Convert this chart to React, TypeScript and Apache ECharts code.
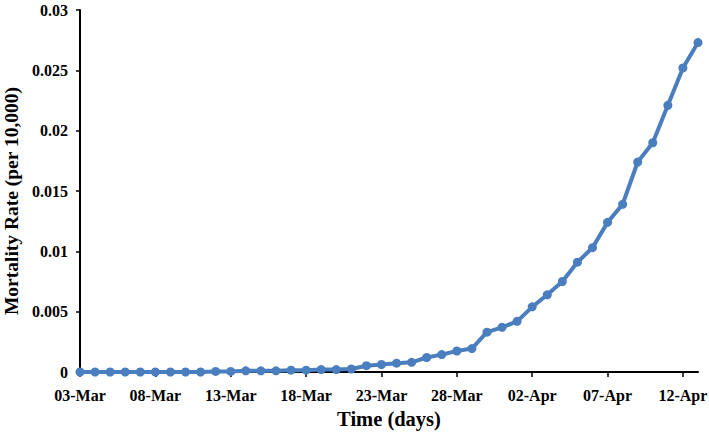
import React, { useEffect, useRef } from "react";
import * as echarts from "echarts";

const categories = [
  "03-Mar","04-Mar","05-Mar","06-Mar","07-Mar","08-Mar","09-Mar","10-Mar","11-Mar","12-Mar",
  "13-Mar","14-Mar","15-Mar","16-Mar","17-Mar","18-Mar","19-Mar","20-Mar","21-Mar","22-Mar",
  "23-Mar","24-Mar","25-Mar","26-Mar","27-Mar","28-Mar","29-Mar","30-Mar","31-Mar","01-Apr",
  "02-Apr","03-Apr","04-Apr","05-Apr","06-Apr","07-Apr","08-Apr","09-Apr","10-Apr","11-Apr",
  "12-Apr","13-Apr",
];

const mortalityRate = [
  0, 0, 0, 0, 0, 0, 0, 0, 0, 0.00005,
  0.00005, 0.0001, 0.0001, 0.0001, 0.00015, 0.00015, 0.0002, 0.0002, 0.00025, 0.00052,
  0.00062, 0.00073, 0.0008, 0.0012, 0.00144, 0.00174, 0.00194, 0.0033, 0.0037, 0.0042,
  0.0054, 0.0064, 0.0075, 0.0091, 0.0103, 0.0124, 0.0139, 0.0174, 0.019, 0.0221,
  0.0252, 0.0273,
];

const xTitle = "Time (days)";
const yTitle = "Mortality Rate (per 10,000)";

export default function App() {
  const ref = useRef<HTMLDivElement>(null);
  useEffect(() => {
    if (!ref.current) return;
    const chart = echarts.init(ref.current, null, { renderer: "svg" });
    const font = "'Liberation Serif', 'Times New Roman', serif";
    chart.setOption({
      animation: false,
      grid: { left: 80, right: 11, top: 10, bottom: 61, containLabel: false, outerBoundsMode: "none" },
      graphic: [
        {
          type: "text",
          x: 11,
          y: 201,
          rotation: Math.PI / 2,
          style: {
            text: yTitle,
            fontFamily: font,
            fontWeight: "bold",
            fontSize: 19.5,
            fill: "#000",
            align: "center",
            verticalAlign: "middle",
          },
        },
      ],
      xAxis: {
        type: "category",
        data: categories,
        boundaryGap: false,
        name: xTitle,
        nameLocation: "middle",
        nameGap: 36,
        nameTextStyle: { fontFamily: font, fontWeight: "bold", fontSize: 20.5, color: "#000" },
        axisLine: { lineStyle: { color: "#000", width: 2 } },
        axisTick: { show: true, interval: 4, length: 5, lineStyle: { color: "#000", width: 1.5 } },
        axisLabel: {
          interval: 4,
          margin: 15,
          fontFamily: font,
          fontWeight: "bold",
          fontSize: 16,
          color: "#000",
        },
        splitLine: { show: false },
      },
      yAxis: {
        type: "value",
        min: 0,
        max: 0.03,
        interval: 0.005,
        axisLine: { show: true, lineStyle: { color: "#000", width: 2 } },
        axisTick: { show: true, length: 4, lineStyle: { color: "#000", width: 1.5 } },
        axisLabel: {
          margin: 12,
          fontFamily: font,
          fontWeight: "bold",
          fontSize: 16,
          color: "#000",
          formatter: (v: number) => String(+v.toFixed(3)),
        },
        splitLine: { show: false },
      },
      series: [
        {
          type: "line",
          data: mortalityRate,
          symbol: "circle",
          symbolSize: 9,
          lineStyle: { color: "#4a7ebf", width: 4 },
          itemStyle: { color: "#4a7ebf" },
        },
      ],
    });
    return () => chart.dispose();
  }, []);
  return <div ref={ref} style={{ width: 709, height: 433, position: "absolute", left: 0, top: 0 }} />;
}
